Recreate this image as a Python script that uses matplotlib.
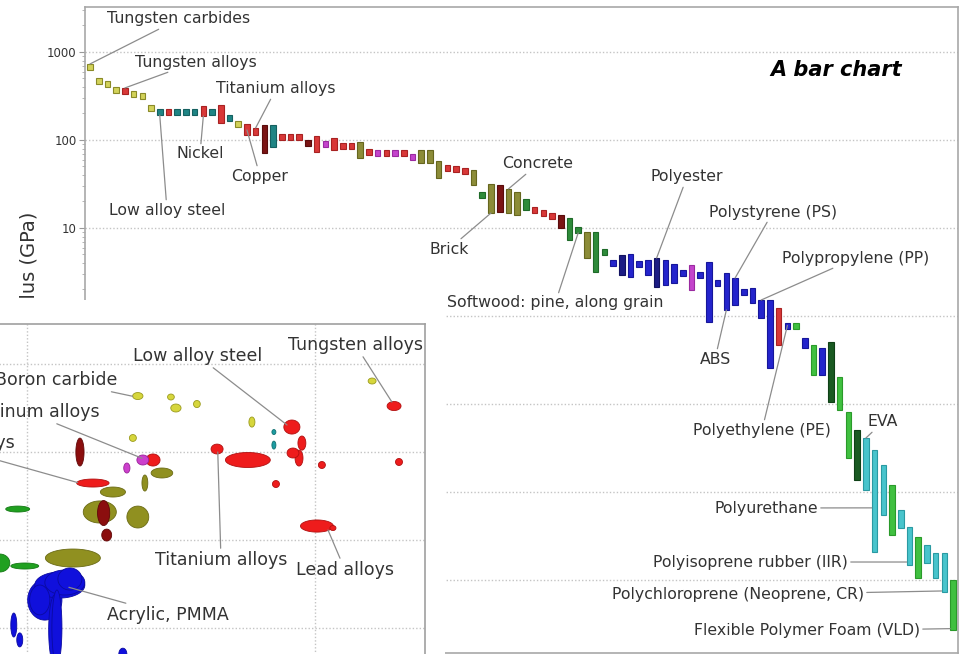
import numpy as np
import matplotlib
matplotlib.use("Agg")
import matplotlib.pyplot as plt
from matplotlib.patches import Rectangle
from matplotlib.transforms import Bbox, TransformedBbox
from matplotlib.ticker import FuncFormatter, NullFormatter

# ---- main bar chart: Young's modulus ranges (GPa), one bar per material ----
bar_lo = [624, 433, 400, 342, 333, 308, 292, 214, 192, 192,
          192, 192, 192, 187, 192, 156, 164, 141, 114, 114,
          71, 83, 100, 100, 100, 85.5, 73, 83, 77, 79,
          79, 62, 67.6, 65.8, 65.8, 65.8, 65.8, 59, 55, 55,
          37, 44.5, 43.3, 41, 30.8, 21.9, 14.8, 15.2, 14.8, 14.1,
          16, 14.8, 13.7, 12.7, 10, 7.3, 8.8, 4.56, 3.16, 4.93,
          3.70, 2.92, 2.77, 3.61, 2.92, 2.14, 2.25, 2.37, 2.85, 1.97,
          2.70, 0.855, 2.19, 1.17, 1.33, 1.73, 1.41, 0.95, 0.256, 0.468,
          0.71, 0.71, 0.43, 0.214, 0.214, 0.105, 0.0855, 0.0243, 0.0137, 0.0105,
          0.00208, 0.00548, 0.00324, 0.0039, 0.00148, 0.00105, 0.00156, 0.00105, 0.00073, 0.00027]
bar_hi = [731, 507, 468, 400, 390, 360, 342, 250, 225, 225,
          225, 225, 225, 243, 225, 250, 192, 164, 152, 137,
          148, 148, 117, 117, 117, 100, 111, 97.5, 105, 92.5,
          92.5, 95, 79, 77, 77, 77, 77, 69, 77, 77,
          57.7, 52, 50.7, 48, 45.6, 25.6, 31.6, 30.8, 27.8, 25.6,
          21.4, 17.3, 16, 14.8, 14.1, 13, 10.3, 9.0, 9.0, 5.77,
          4.33, 4.93, 5.07, 4.22, 4.33, 4.56, 4.33, 3.90, 3.33, 3.80,
          3.16, 4.11, 2.56, 3.08, 2.70, 2.03, 2.08, 1.52, 1.52, 1.23,
          0.83, 0.83, 0.56, 0.468, 0.43, 0.507, 0.203, 0.081, 0.0507, 0.041,
          0.030, 0.0203, 0.0120, 0.00624, 0.0040, 0.00308, 0.0025, 0.00203, 0.00203, 0.001]
bar_cls = ['Y', 'Y', 'Y', 'Y', 'R', 'Y', 'Y', 'Y', 'T', 'R',
           'T', 'T', 'T', 'R', 'T', 'R', 'T', 'Y', 'R', 'R',
           'DR', 'T', 'R', 'R', 'R', 'DR', 'R', 'M', 'R', 'R',
           'R', 'O', 'R', 'M', 'R', 'M', 'R', 'M', 'O', 'O',
           'O', 'R', 'R', 'R', 'O', 'G', 'O', 'DR', 'O', 'O',
           'G', 'R', 'R', 'R', 'DR', 'G', 'G', 'O', 'G', 'G',
           'B', 'DB', 'B', 'B', 'B', 'DB', 'B', 'B', 'B', 'M',
           'B', 'B', 'B', 'B', 'B', 'B', 'B', 'B', 'B', 'R',
           'B', 'LG', 'B', 'LG', 'B', 'DG', 'LG', 'LG', 'DG', 'C',
           'C', 'C', 'LG', 'C', 'C', 'LG', 'C', 'C', 'C', 'LG']

# labelled bars: (label, bar index, modulus at end of leader, text x, text y (px from top), align)
bar_labels = [
    ("Tungsten carbides", 0, 731, 179, 19, 'center'),
    ("Tungsten alloys", 4, 390, 196, 62, 'center'),
    ("Titanium alloys", 19, 137, 276, 89, 'center'),
    ("Nickel", 13, 187, 200, 154, 'center'),
    ("Copper", 18, 130, 260, 176, 'center'),
    ("Low alloy steel", 8, 192, 167, 210, 'center'),
    ("Brick", 46, 14.8, 449, 249, 'center'),
    ("Concrete", 48, 27.8, 538, 164, 'center'),
    ("Softwood: pine, along grain", 56, 8.8, 447, 303, 'left'),
    ("Polyester", 65, 4.56, 687, 177, 'center'),
    ("Polystyrene (PS)", 74, 2.70, 773, 212, 'center'),
    ("Polypropylene (PP)", 77, 1.52, 856, 258, 'center'),
    ("ABS", 73, 1.17, 715, 359, 'center'),
    ("Polyethylene (PE)", 80, 0.78, 762, 430, 'center'),
    ("EVA", 89, 0.041, 883, 422, 'center'),
    ("Polyurethane", 90, 0.0066, 818, 508, 'right'),
    ("Polyisoprene rubber (IIR)", 94, 0.0016, 848, 562, 'right'),
    ("Polychloroprene (Neoprene, CR)", 98, 0.00075, 864, 595, 'right'),
    ("Flexible Polymer Foam (VLD)", 99, 0.00028, 920, 631, 'right'),
]

# ---- inset bubble chart: density (kg/m3) vs modulus (GPa) ranges ----
ell_rho_lo = [15300, 17800, 2330, 3080, 3160, 3790, 5900, 2270, 1480, 2410,
              2170, 2590, 2700, 2510, 4360, 4890, 7090, 7090, 7800, 8730,
              8000, 8530, 10280, 19040, 7120, 8910, 11270, 1490, 1800, 1570,
              1760, 2225, 1820, 845, 1160, 880, 744, 1066, 1282, 1023,
              1191, 880, 923, 2086, 1007, 1155, 1222]
ell_rho_hi = [16300, 19900, 2530, 3250, 3430, 4000, 6190, 2400, 1580, 2650,
              2280, 2900, 3210, 2630, 4800, 7000, 7320, 7320, 8870, 9300,
              8800, 9090, 10870, 20130, 7530, 11590, 11830, 1930, 2200, 2045,
              1940, 2650, 1970, 1023, 1800, 1100, 873, 1590, 1553, 1202,
              1312, 923, 968, 2225, 1324, 1590, 1324]
ell_E_lo = [593, 296, 395, 390, 285, 320, 192, 132, 69.3, 71.2,
            57.7, 69.3, 50.7, 36, 95, 66.7, 158, 108, 160, 105,
            85.5, 69.3, 65, 70.3, 39.5, 12.3, 12.8, 40, 30.8, 15.6,
            14.6, 13.7, 9.74, 20.8, 4.93, 4.68, 4.33, 2.19, 2.70, 1.41,
            0.38, 0.79, 0.61, 0.43, 1.23, 2.37, 0.38]
ell_E_hi = [693, 375, 474, 456, 351, 385, 250, 158, 144, 92.5,
            75, 95, 65.8, 54.8, 123, 98.7, 180, 133, 231, 152,
            111, 105, 78, 84.4, 47.4, 16.9, 14.6, 49.3, 40, 27.8,
            28.1, 24.3, 13.3, 24.3, 7.9, 5.48, 6.93, 4.33, 4.81, 3.08,
            2.37, 1.48, 0.88, 0.59, 3.51, 4.56, 2.70]
ell_cls = ['Y', 'R', 'Y', 'Y', 'Y', 'Y', 'Y', 'Y', 'DR', 'M',
           'M', 'R', 'O', 'O', 'R', 'R', 'T', 'T', 'R', 'R',
           'R', 'R', 'R', 'R', 'R', 'R', 'R', 'R', 'O', 'O',
           'DR', 'O', 'DR', 'G', 'O', 'G', 'G', 'B', 'B', 'B',
           'B', 'B', 'B', 'B', 'B', 'B', 'B']

inset_labels = [
    ("Tungsten alloys", 18500, 370, 423, 345, 'right'),
    ("Low alloy steel", 8000, 203, 198, 356, 'center'),
    ("Boron carbide", 2330, 430, 117, 380, 'right'),
    ("Aluminum alloys", 2510, 85, 100, 412, 'right'),
    ("Magnesium alloys", 1500, 45, 15, 443, 'right'),
    ("Titanium alloys", 4600, 100, 221, 560, 'center'),
    ("Lead alloys", 11100, 13, 345, 570, 'center'),
    ("Acrylic, PMMA", 1400, 2.9, 168, 615, 'center'),
]

bar_colors = {
    'Y': ('#d2d25a', '#8a8a28'), 'R': ('#d83838', '#a82222'),
    'DR': ('#7a1414', '#5a0c0c'), 'T': ('#1f8484', '#156060'),
    'M': ('#c444cc', '#9a2aa0'), 'O': ('#8c8c38', '#66661e'),
    'G': ('#2e8b3a', '#1e6a28'), 'DG': ('#1a5a22', '#0f4016'),
    'B': ('#2424cc', '#16169a'), 'DB': ('#1c1c84', '#121260'),
    'LG': ('#40c040', '#2a9a2a'), 'C': ('#48c4cc', '#2a9aa2'),
}
ell_colors = {
    'Y': ('#d6d63c', '#9a9a1c'), 'R': ('#ee1c1c', '#b01010'),
    'DR': ('#8b0e0e', '#600808'), 'O': ('#909020', '#6a6a14'),
    'M': ('#cc40cc', '#992299'), 'T': ('#1c9ca2', '#127070'),
    'G': ('#20a020', '#147814'), 'B': ('#1010dc', '#0a0aa0'),
}

W, H = 961, 654
fig = plt.figure(figsize=(W / 100, H / 100), dpi=100)
txt_col = '#333333'
line_col = '#8c8c8c'

# main axes
ax = fig.add_axes([85 / W, 1 - 653 / H, (958 - 85) / W, (653 - 7) / H], zorder=0)
ax.set_yscale('log')
idx = np.arange(len(bar_lo))
lo = np.array(bar_lo)
hi = np.array(bar_hi)
ax.bar(idx, hi - lo, bottom=lo, width=0.64,
       color=[bar_colors[c][0] for c in bar_cls],
       edgecolor=[bar_colors[c][1] for c in bar_cls], linewidth=0.8, zorder=3)
ax.set_xlim(-0.574, 99.57)
ax.set_ylim(1.48e-4, 3245)
ax.set_xticks([])
ax.yaxis.set_major_formatter(FuncFormatter(lambda v, p: f'{v:g}'))
ax.yaxis.set_minor_formatter(NullFormatter())
ax.tick_params(axis='y', which='major', labelsize=8.5, labelcolor=txt_col, color='#999999', length=4, pad=2)
ax.tick_params(axis='y', which='minor', color='#aaaaaa', length=2)
ax.yaxis.grid(True, which='major', color='#c4c4c4', linestyle=(0, (1, 1.5)), linewidth=1)
ax.set_axisbelow(True)
for s in ax.spines.values():
    s.set_color('#a8a8a8')
    s.set_linewidth(1.2)

for name, i, val, tx, ty, ha in bar_labels:
    xy_x = i if ha != 'right' else i - 0.32
    ax.annotate(name, xy=(xy_x, val), xytext=(tx, H - ty), textcoords='figure pixels',
                ha=ha, va='center', fontsize=11.3, color=txt_col,
                arrowprops=dict(arrowstyle='-', color=line_col, lw=0.9, shrinkA=0, shrinkB=0))

ax.text((836 - 85) / (958 - 85), 1 - (70 - 7) / (653 - 7), 'A bar chart',
        transform=ax.transAxes, ha='center', va='center', fontsize=15,
        fontweight='bold', fontstyle='italic', color='black')

# y label, only its upper end shows above the inset
ylab = fig.text(30 / W, 1 - 212 / H, "Young's modulus (GPa)", rotation=90, ha='center', va='top',
                fontsize=14, color=txt_col, zorder=0.5)
ylab.set_clip_box(TransformedBbox(Bbox.from_extents(0, (H - 300) / H, 1, 1), fig.transFigure))
ylab.set_clip_on(True)

# white backing for the inset
fig.add_artist(Rectangle((0, 0), 445 / W, (H - 300) / H, transform=fig.transFigure,
                         facecolor='white', edgecolor='none', zorder=1))

# inset axes
axi = fig.add_axes([-48 / W, -46 / H, (425 + 48) / W, (700 - 324) / H], zorder=2)
axi.set_xscale('log')
axi.set_yscale('log')
axi.set_xlim(550, 24100)
axi.set_ylim(0.152, 2850)
axi.set_xticks([1000, 10000])
axi.set_yticks([1, 10, 100, 1000])
axi.minorticks_off()
axi.tick_params(length=0, labelbottom=False, labelleft=False)
axi.grid(True, color='#c4c4c4', linestyle=(0, (1, 1.5)), linewidth=1)
axi.set_axisbelow(True)
for s in axi.spines.values():
    s.set_color('#a0a0a0')
    s.set_linewidth(1.2)

t = np.linspace(0, 2 * np.pi, 80)
order = np.argsort([-(np.log10(h / l) * np.log10(rh / rl)) for l, h, rl, rh in
                    zip(ell_E_lo, ell_E_hi, ell_rho_lo, ell_rho_hi)])
for k in order:
    cx = (np.log10(ell_rho_lo[k]) + np.log10(ell_rho_hi[k])) / 2
    rx = (np.log10(ell_rho_hi[k]) - np.log10(ell_rho_lo[k])) / 2
    cy = (np.log10(ell_E_lo[k]) + np.log10(ell_E_hi[k])) / 2
    ry = (np.log10(ell_E_hi[k]) - np.log10(ell_E_lo[k])) / 2
    fc, ec = ell_colors[ell_cls[k]]
    axi.fill(10 ** (cx + rx * np.cos(t)), 10 ** (cy + ry * np.sin(t)),
             facecolor=fc, edgecolor=ec, linewidth=0.6, zorder=3)

for name, rho, e, tx, ty, ha in inset_labels:
    axi.annotate(name, xy=(rho, e), xytext=(tx, H - ty), textcoords='figure pixels',
                 ha=ha, va='center', fontsize=12.5, color=txt_col, annotation_clip=False,
                 arrowprops=dict(arrowstyle='-', color=line_col, lw=0.9, shrinkA=0, shrinkB=0))

fig.savefig('out.png', dpi=100)
